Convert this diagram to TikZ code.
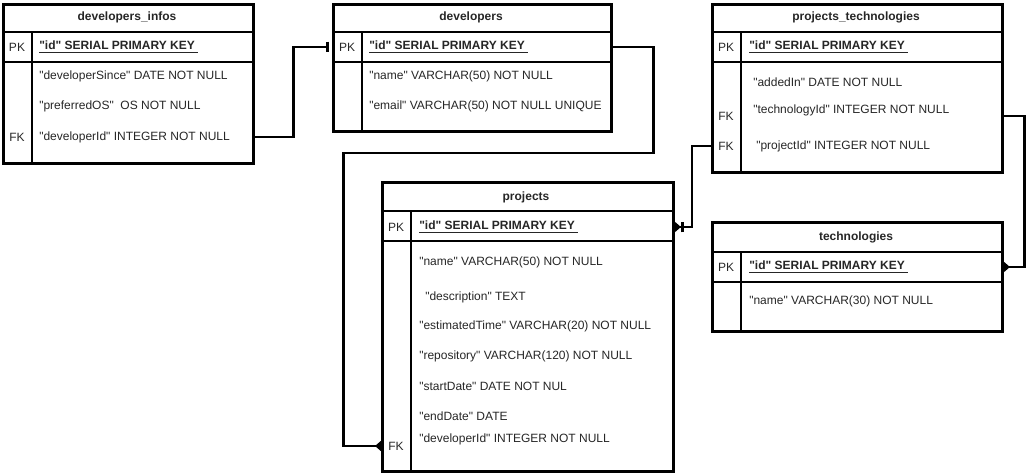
\documentclass[tikz,border=0pt]{standalone}
\usepackage{fontspec}
\setmainfont{Liberation Sans}[Ligatures=TeXOff]
\usetikzlibrary{arrows.meta}

\tikzset{
  tbl/.style={draw,line width=2.2pt,rectangle,inner sep=0pt,anchor=north west},
  tline/.style={line width=2.2pt},
  ttl/.style={font=\fontsize{9}{11}\selectfont\bfseries,text=black!85,inner sep=0pt},
  pkey/.style={font=\fontsize{9}{11}\selectfont\bfseries,text=black!85,inner sep=0pt,anchor=west},
  key/.style={font=\fontsize{9}{11}\selectfont,text=black!85,inner sep=0pt},
  fld/.style={font=\fontsize{9}{11}\selectfont,text=black!85,inner sep=0pt,anchor=west},
  lnk/.style={line width=2.2pt},
  one/.style={-{Bar[width=8pt,length=2pt]},shorten >=2pt},
  many/.style={-{Triangle[reversed,width=7.5pt,length=4.5pt]}},
  onemany/.style={-{Bar[width=8pt,length=2pt] Triangle[reversed,width=7.5pt,length=4.5pt]}}
}

\begin{document}
\begin{tikzpicture}[x=0.75pt,y=-0.75pt]
  \useasboundingbox (0,0) rectangle (1031,473);

  % developers_infos
  \node[tbl,minimum width=187.5pt,minimum height=119.25pt] (devinfo) at (2,3) {};
  \draw[tline] (2,32) -- (252,32);
  \draw[tline] (2,62) -- (252,62);
  \draw[tline] (32,32) -- (32,162);
  \node[ttl] (devinfot) at (127,17) {developers\_infos};
  \node[key] (devinfopk) at (17,47) {PK};
  \node[pkey] (devinfoid) at (39,47) {\underline{"id" SERIAL PRIMARY KEY\ }};
  \node[fld] (devinfof1) at (39,76) {"developerSince" DATE NOT NULL};
  \node[fld] (devinfof2) at (39,106) {"preferredOS"\ \ OS NOT NULL};
  \node[fld] (devinfof3) at (39,137) {"developerId" INTEGER NOT NULL};
  \node[key] (devinfofk) at (17,137) {FK};

  % developers
  \node[tbl,minimum width=208.5pt,minimum height=95.25pt] (devs) at (332,3) {};
  \draw[tline] (332,32) -- (610,32);
  \draw[tline] (332,62) -- (610,62);
  \draw[tline] (362,32) -- (362,130);
  \node[ttl] (devst) at (471,17) {developers};
  \node[key] (devspk) at (347,47) {PK};
  \node[pkey] (devsid) at (369,47) {\underline{"id" SERIAL PRIMARY KEY\ }};
  \node[fld] (devsf1) at (369,76) {"name" VARCHAR(50) NOT NULL};
  \node[fld] (devsf2) at (369,106) {"email" VARCHAR(50) NOT NULL UNIQUE};

  % projects_technologies
  \node[tbl,minimum width=217.5pt,minimum height=126pt] (projtech) at (711,3) {};
  \draw[tline] (711,32) -- (1001,32);
  \draw[tline] (711,62) -- (1001,62);
  \draw[tline] (741,32) -- (741,171);
  \node[ttl] (projtecht) at (856,17) {projects\_technologies};
  \node[key] (projtechpk) at (726,47) {PK};
  \node[pkey] (projtechid) at (749,47) {\underline{"id" SERIAL PRIMARY KEY\ }};
  \node[fld] (projtechf1) at (753,82) {"addedIn" DATE NOT NULL};
  \node[fld] (projtechf2) at (753,110) {"technologyId" INTEGER NOT NULL};
  \node[fld] (projtechf3) at (756,146) {"projectId" INTEGER NOT NULL};
  \node[key] (projtechfka) at (726,116) {FK};
  \node[key] (projtechfkb) at (726,146) {FK};

  % projects
  \node[tbl,minimum width=218.25pt,minimum height=216.75pt] (projs) at (381,181) {};
  \draw[tline] (381,211) -- (672,211);
  \draw[tline] (381,241) -- (672,241);
  \draw[tline] (411,211) -- (411,470);
  \node[ttl] (projst) at (526,197) {projects};
  \node[key] (projspk) at (396,227) {PK};
  \node[pkey] (projsid) at (419,227) {\underline{"id" SERIAL PRIMARY KEY\ }};
  \node[fld] (projsf1) at (419,262) {"name" VARCHAR(50) NOT NULL};
  \node[fld] (projsf2) at (425,297) {"description" TEXT};
  \node[fld] (projsf3) at (419,326) {"estimatedTime" VARCHAR(20) NOT NULL};
  \node[fld] (projsf4) at (419,356) {"repository" VARCHAR(120) NOT NULL};
  \node[fld] (projsf5) at (419,386) {"startDate" DATE NOT NUL};
  \node[fld] (projsf6) at (419,416) {"endDate" DATE};
  \node[fld] (projsf7) at (419,439) {"developerId" INTEGER NOT NULL};
  \node[key] (projsfk) at (396,446) {FK};

  % technologies
  \node[tbl,minimum width=217.5pt,minimum height=81.75pt] (techs) at (711,221) {};
  \draw[tline] (711,252) -- (1001,252);
  \draw[tline] (711,282) -- (1001,282);
  \draw[tline] (741,252) -- (741,330);
  \node[ttl] (techst) at (856,237) {technologies};
  \node[key] (techspk) at (726,267) {PK};
  \node[pkey] (techsid) at (749,267) {\underline{"id" SERIAL PRIMARY KEY\ }};
  \node[fld] (techsf1) at (749,301) {"name" VARCHAR(30) NOT NULL};

  % relations
  \draw[lnk,one] (devinfo.east |- devinfofk) -- ++(39,0) |- (devs.west |- devspk);
  \draw[lnk,many] (devs.east |- devspk) -- ++(41,0) -- ++(0,106) -- ++(-310,0)
    |- (projs.west |- projsfk);
  \draw[lnk,onemany] (projtech.west |- projtechfkb) -- ++(-19,0) |- (projs.east |- projspk);
  \draw[lnk,many] (projtech.east |- projtechfka) -- ++(21,0) |- (techs.east |- techspk);
\end{tikzpicture}
\end{document}
